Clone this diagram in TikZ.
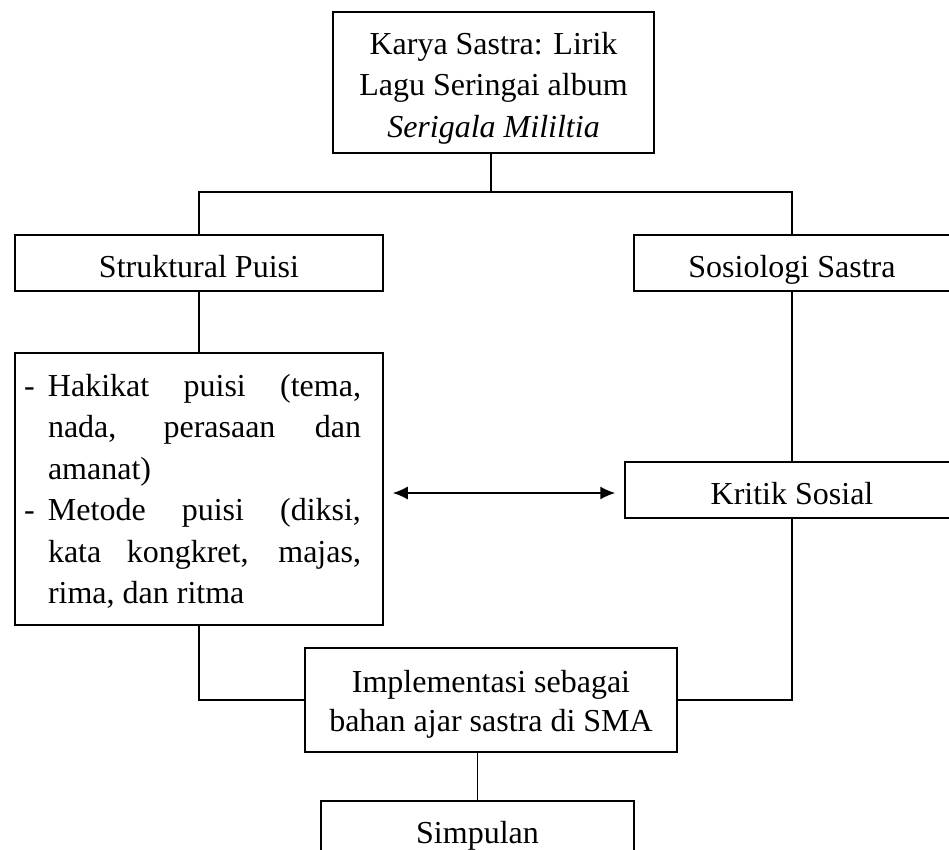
\documentclass[tikz,border=0pt]{standalone}
\usepackage{fontspec}
\setmainfont{Liberation Serif}
\usetikzlibrary{arrows.meta}
\tikzset{
    box/.style={draw, line width=1.5pt, inner sep=0pt, align=center,
        font=\fontsize{32}{41.5}\selectfont},
    oneline/.style={box, minimum height=56, text height=28pt, text depth=0pt},
    link/.style={line width=1.5pt}
}
\begin{document}
\begin{tikzpicture}[x=1pt,y=-1pt]
                \useasboundingbox (0,0) rectangle (949,850);
                \node[box, minimum width=321, minimum height=141] (karya) at (493.5,82.5)
                    {\rule{0pt}{33pt}Karya Sastra: Lirik\\Lagu Seringai album\\\textit{Serigala Mililtia}};
                \node[oneline, minimum width=368] (struktural) at (199,263) {Struktural Puisi};
                \node[oneline, minimum width=316] (sosiologi) at (792,263) {Sosiologi Sastra};
                \node[box, minimum width=368, minimum height=272, text width=350, align=justify] (hakikat) at (199,489)
                    {\rightskip=13pt
                     \hangindent=24pt\hangafter=1\noindent\makebox[24pt][l]{-}\rule{0pt}{27pt}Hakikat puisi (tema,\linebreak
                     nada, perasaan dan\linebreak amanat)\par
                     \hangindent=24pt\hangafter=1\noindent\makebox[24pt][l]{-}Metode puisi (diksi,\linebreak
                     kata kongkret, majas,\linebreak rima, dan ritma\par};
                \node[oneline, minimum width=334] (kritik) at (792,490) {Kritik Sosial};
                \node[box, minimum width=372, minimum height=104] (implementasi) at (491,700)
                    {\rule{0pt}{31pt}Implementasi sebagai\\[-3pt]bahan ajar sastra di SMA};
                \node[oneline, minimum width=313] (simpulan) at (477.5,829) {Simpulan};
                \coordinate (split) at (491,192);
                % tree lines
                \draw[link] (karya.south -| split) -- (split);
                \draw[link] (struktural.north) |- (split) -| (sosiologi.north);
                \draw[link] (struktural.south) -- (hakikat.north);
                \draw[link] (sosiologi.south) -- (kritik.north);
                \draw[link] (hakikat.south) |- (implementasi.west);
                \draw[link] (kritik.south) |- (implementasi.east);
                \draw[link] (implementasi.south -| simpulan.north) -- (simpulan.north);
                \draw[link, {Latex[length=15pt,width=13pt]}-{Latex[length=15pt,width=13pt]},
                    shorten <=9pt, shorten >=9pt] (hakikat.east |- 0,493) -- (kritik.west |- 0,493);
            \end{tikzpicture}
\end{document}
